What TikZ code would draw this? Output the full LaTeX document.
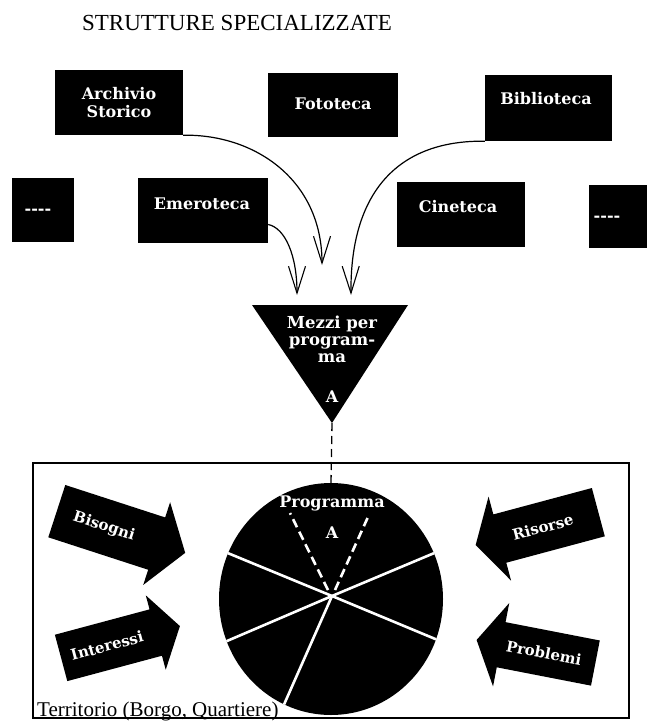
\documentclass[tikz,border=0pt]{standalone}
\usepackage{fontspec}
\setmainfont{Liberation Serif}
\newfontfamily\boxfont{DejaVu Serif}
\usetikzlibrary{arrows.meta,shapes.geometric}
\begin{document}
\begin{tikzpicture}[x=1pt,y=-1pt,
  box/.style={fill=black, inner sep=0pt},
  btxt/.style={text=white, font=\boxfont\bfseries\fontsize{16}{18}\selectfont, align=center, inner sep=0pt},
  atxt/.style={text=white, font=\boxfont\bfseries\fontsize{15}{17}\selectfont, inner sep=0pt},
  conn/.style={line width=1.2pt, -{Straight Barb[length=27pt,width=17pt,line width=1.1pt]}},
  dline/.style={line width=1.3pt, dash pattern=on 8pt off 5pt},
  wline/.style={white, line width=2.6pt},
  wdash/.style={white, line width=2.6pt, dash pattern=on 9pt off 5pt}]
\useasboundingbox (0,0) rectangle (647,723);
\fill[white] (0,0) rectangle (647,723);

% title
\node[font=\fontsize{23}{26}\selectfont, inner sep=0pt] (title) at (237,23) {STRUTTURE SPECIALIZZATE};

% boxes
\node[box, minimum width=128pt, minimum height=65pt] (arch) at (119,102.5) {};
\node[btxt] (archt) at (119,102.5) {Archivio\\Storico};
\node[box, minimum width=130pt, minimum height=64pt] (foto) at (333,105) {};
\node[btxt] (fotot) at (333,104) {Fototeca};
\node[box, minimum width=127pt, minimum height=66pt] (bibl) at (548.5,108) {};
\node[btxt] (biblt) at (546,99) {Biblioteca};
\node[box, minimum width=62pt, minimum height=64pt] (sl) at (43,210) {};
\node[btxt] (slt) at (38,212) {-{}-{}-{}-};
\node[box, minimum width=130pt, minimum height=65pt] (emer) at (203,210.5) {};
\node[btxt] (emert) at (202,204) {Emeroteca};
\node[box, minimum width=128pt, minimum height=65pt] (cine) at (461,214.5) {};
\node[btxt] (cinet) at (458,207) {Cineteca};
\node[box, minimum width=62pt, minimum height=63pt] (sr) at (620,216.5) {};
\node[btxt] (srt) at (607,219) {-{}-{}-{}-};

% triangle
\coordinate (triL) at (252,305);
\coordinate (triR) at (408,305);
\coordinate (apex) at (332,423);
\fill (triL) -- (triR) -- (apex) -- cycle;
\node[btxt, font=\boxfont\bfseries\fontsize{16.5}{17}\selectfont] (mezzi) at (332,339) {Mezzi per\\program-\\ma};
\node[btxt] (mezziA) at (332,397) {A};

% connectors
\coordinate (tipA) at (322,265);
\coordinate (tipE) at (297,295);
\coordinate (tipB) at (351,295);
\draw[conn] (arch.south east) .. controls (255,134) and (322,180) .. (tipA);
\draw[conn] ([yshift=-14pt]emer.east) .. controls (285,228) and (297,255) .. (tipE);
\draw[conn] (bibl.south west) .. controls (400,140) and (350,190) .. (tipB);

% territory frame
\node[draw, line width=1.2pt, minimum width=596pt, minimum height=255pt, inner sep=0pt] (terr) at (331,590.5) {};
\node[anchor=base west, font=\fontsize{21}{24}\selectfont, inner sep=0pt] (terrt) at (37,716) {Territorio (Borgo, Quartiere)};

% programme circle
\node[ellipse, fill=black, minimum width=224pt, minimum height=232pt, inner sep=0pt] (prog) at (331,599) {};
\draw[dline] (apex) -- (prog.north);
\coordinate (ctr) at (332,596);
\draw[wline] (ctr) -- (prog.156);
\draw[wline] (ctr) -- (prog.-21);
\draw[wline] (ctr) -- (prog.202);
\draw[wline] (ctr) -- (prog.24);
\draw[wline] (ctr) -- (prog.246);
\coordinate (dl0) at (328,590);
\coordinate (dl1) at (290,513);
\coordinate (dr0) at (335,590);
\coordinate (dr1) at (368,517);
\draw[wdash] (dl0) -- (dl1);
\draw[wdash] (dr0) -- (dr1);
\node[btxt, font=\boxfont\bfseries\fontsize{16}{18}\selectfont] (progt) at (332,503) {Programma};
\node[btxt] (progA) at (332,533) {A};

% block arrows
\begin{scope}[shift={(121,532)}, rotate=-18]
  \fill (-67.5,27.5) -- (37.5,27.5) -- (37.5,43.5) -- (67.5,0) -- (37.5,-43.5) -- (37.5,-27.5) -- (-67.5,-27.5) -- cycle;
  \node[atxt, rotate=-18] (bis) at (-18,0) {Bisogni};
\end{scope}
\begin{scope}[shift={(120.5,642)}, rotate=15]
  \fill (-61.5,24) -- (36.5,24) -- (36.5,38.5) -- (61.5,0) -- (36.5,-38.5) -- (36.5,-24) -- (-61.5,-24) -- cycle;
  \node[atxt, rotate=15] (inter) at (-14,0) {Interessi};
\end{scope}
\begin{scope}[shift={(537,528.6)}, rotate=15]
  \fill (63.5,25) -- (-38.5,25) -- (-38.5,43.5) -- (-63.5,0) -- (-38.5,-43.5) -- (-38.5,-25) -- (63.5,-25) -- cycle;
  \node[atxt, rotate=15] (ris) at (6,0) {Risorse};
\end{scope}
\begin{scope}[shift={(536,651.5)}, rotate=-11]
  \fill (60.5,23) -- (-35.5,23) -- (-35.5,42.5) -- (-60.5,0) -- (-35.5,-42.5) -- (-35.5,-23) -- (60.5,-23) -- cycle;
  \node[atxt, rotate=-11] (prob) at (8,0) {Problemi};
\end{scope}
\end{tikzpicture}
\end{document}
